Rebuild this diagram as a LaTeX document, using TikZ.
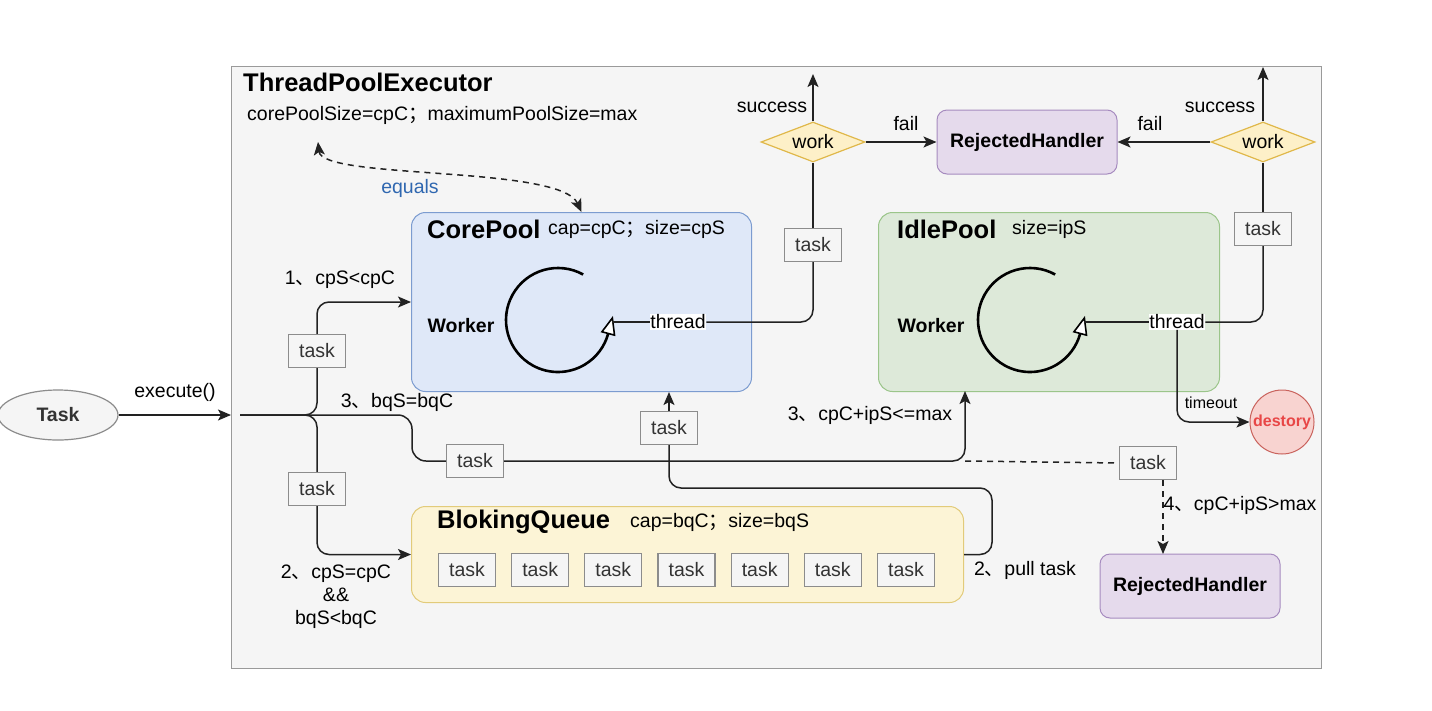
\documentclass[tikz,border=0pt]{standalone}
\usepackage{fontspec}
\setmainfont{Liberation Sans}
\newfontfamily\cjk{Noto Sans CJK SC}
\usetikzlibrary{arrows.meta,shapes.geometric,positioning,calc}
\definecolor{outfill}{HTML}{F5F5F5}
\definecolor{outline}{HTML}{9A9A9A}
\definecolor{tkline}{HTML}{8C8C8C}
\definecolor{tktext}{HTML}{333333}
\definecolor{corefill}{HTML}{DFE8F8}
\definecolor{coreline}{HTML}{7C9CD0}
\definecolor{idlefill}{HTML}{DDE9D9}
\definecolor{idleline}{HTML}{9BC58A}
\definecolor{queuefill}{HTML}{FCF4D6}
\definecolor{queueline}{HTML}{E2CB7A}
\definecolor{rejfill}{HTML}{E5DAEC}
\definecolor{rejline}{HTML}{A68BBF}
\definecolor{workfill}{HTML}{FDF0C8}
\definecolor{workline}{HTML}{E0B84A}
\definecolor{desfill}{HTML}{F8D3D0}
\definecolor{desline}{HTML}{C9625C}
\definecolor{destext}{HTML}{E84646}
\definecolor{eqblue}{HTML}{2F67B0}
\definecolor{connc}{HTML}{222222}
\newcommand{\dun}{{\cjk 、}}
\newcommand{\fen}{{\cjk ；}}

\begin{document}
\begin{tikzpicture}[x=1pt, y=-1pt,
	lbl/.style={font=\fontsize{19.5}{23}\selectfont, inner sep=1pt},
	head/.style={font=\fontsize{25.5}{28}\selectfont\bfseries, inner sep=0pt, anchor=west},
	tk/.style={draw=tkline, fill=outfill, text=tktext, line width=1.2pt, minimum width=57pt, minimum height=33pt, inner sep=0pt, font=\fontsize{19.5}{23}\selectfont},
	pool/.style={rounded corners=14pt, line width=1pt, minimum height=179pt, inner sep=0pt, anchor=north west},
	rej/.style={draw=rejline, fill=rejfill, line width=1pt, rounded corners=10pt, minimum width=180pt, minimum height=64pt, font=\fontsize{19.5}{23}\selectfont\bfseries},
	work/.style={diamond, draw=workline, fill=workfill, line width=1.2pt, aspect=2.6, minimum width=104pt, minimum height=40pt, inner sep=0pt, font=\fontsize{19.5}{23}\selectfont},
	conn/.style={line width=1.5pt, draw=connc},
	arr/.style={conn, -{Stealth[length=13pt, width=11pt, inset=3pt]}},
	loop/.style={line width=2.6pt},
	looptip/.style={line width=1.6pt, fill=white, line join=miter}
	]
				\fill[white] (0,0) rectangle (1432,710);
				\useasboundingbox (0,0) rectangle (1432,710);
				\node[draw=outline, fill=outfill, line width=1.2pt, minimum width=1090pt, minimum height=602pt, inner sep=0pt, anchor=north west] (tpe) at (231,66) {};
				\node[head] (title) at (243,82) {ThreadPoolExecutor};
				\node[lbl, anchor=west] (cfg) at (246,115) {corePoolSize=cpC\fen maximumPoolSize=max};

				\node[pool, draw=coreline, fill=corefill, minimum width=340pt] (core) at (411,212) {};
				\node[pool, draw=idleline, fill=idlefill, minimum width=341pt] (idle) at (878,212) {};
				\node[pool, draw=queueline, fill=queuefill, minimum width=552pt, minimum height=96pt] (queue) at (411,506) {};
				\node[head] (coreh) at (427,229) {CorePool};
				\node[lbl, anchor=west] (corep) at (547,229) {cap=cpC\fen size=cpS};
				\node[head] (idleh) at (897,229) {IdlePool};
				\node[lbl, anchor=west] (idlep) at (1011,229) {size=ipS};
				\node[head] (queueh) at (437,522) {BlokingQueue};
				\node[lbl, anchor=west] (queuep) at (629,522) {cap=bqC\fen size=bqS};
				\node[lbl, font=\fontsize{19.5}{23}\selectfont\bfseries] (wk1) at (461,326) {Worker};
				\node[lbl, font=\fontsize{19.5}{23}\selectfont\bfseries] (wk2) at (931,326) {Worker};

				\node[ellipse, draw=tkline, fill=outfill, text=tktext, line width=1.2pt, minimum width=120pt, minimum height=50pt, font=\fontsize{19.5}{23}\selectfont\bfseries] (task) at (58,415) {Task};
				\node[rej] (rejT) at (1027,142) {RejectedHandler};
				\node[rej] (rejB) at (1190,586) {RejectedHandler};
				\node[work] (work1) at (813,142) {work};
				\node[work] (work2) at (1263,142) {work};
				\node[circle, draw=desline, fill=desfill, line width=1pt, minimum size=64pt, inner sep=0pt, text=destext, font=\fontsize{16}{19}\selectfont\bfseries] (destroy) at (1282,422) {destory};

				\node[tk] (tk1) at (317,351) {task};
				\node[tk] (tk2) at (317,489) {task};
				\node[tk] (tk3) at (475,461) {task};
				\node[tk] (tk4) at (1148,463) {task};
				\node[tk] (tk5) at (669,428) {task};
				\node[tk] (tk6) at (813,245) {task};
				\node[tk] (tk7) at (1263,229) {task};
				\foreach \i in {0,...,6}
					\node[tk] (q\i) at ({467+73.17*\i},570) {task};

				\node[lbl, fill=white, inner sep=0.5pt] (thr1) at (678,322) {thread};
				\node[lbl, fill=white, inner sep=0.5pt] (thr2) at (1177,322) {thread};

				\coordinate (split) at (240,415);
				\coordinate (bend) at (412,415);
				\coordinate (idlein) at (965,391);
				\coordinate (pullc) at (992,488);
				\coordinate (c1) at (558,320);
				\coordinate (c2) at (1030,320);
				\coordinate (out1) at (813,74);
				\coordinate (out2) at (1263,67);
				\coordinate (eqa) at (318,142);
				\coordinate (rjin) at (1163,554);

				\draw[arr] (task.east) -- (tpe.west |- task.east);
				\draw[conn, rounded corners=12pt] (split) -| (tk1.south);
				\draw[arr, rounded corners=12pt] (tk1.north) |- (core.west);
				\draw[conn, rounded corners=12pt] (split) -| (tk2.north);
				\draw[arr, rounded corners=12pt] (tk2.south) |- (queue.west);
				\draw[conn, rounded corners=14pt] (split) -- (bend) |- (tk3.west);
				\draw[arr, rounded corners=12pt] (tk3.east) -| (idlein);
				\draw[conn, dashed, dash pattern=on 6pt off 5pt] (idlein |- tk3.east) -- (tk4.west);
				\draw[conn, dashed, dash pattern=on 6pt off 5pt, -{Stealth[length=13pt, width=11pt, inset=3pt]}] (rjin |- tk4.south) -- (rjin);
				\draw[conn, rounded corners=12pt] (queue.east) -| (pullc) -| (tk5.south);
				\draw[arr] (tk5.north) -- (tk5.north |- core.south);

				\foreach \c/\t in {c1/tip1, c2/tip2} {
					\draw[loop] (\c) ++(61:52pt) arc[start angle=61, end angle=345, radius=52pt];
					\coordinate (\t) at ($(\c)+(345:52pt)+(75:16pt)$);
					\draw[looptip] ($(\c)+(345:52pt)+(165:6.5pt)$) -- (\t) -- ($(\c)+(345:52pt)+(-15:6.5pt)$) -- cycle;
				}
				\draw[conn] (thr1.west) -- (tip1 |- thr1.west);
				\draw[conn, rounded corners=12pt] (thr1.east) -| (tk6.south);
				\draw[conn] (tk6.north) -- (work1.south);
				\draw[arr] (work1.north) -- (out1);
				\draw[arr] (work1.east) -- (rejT.west);
				\draw[conn] (thr2.west) -- (tip2 |- thr2.west);
				\draw[conn, rounded corners=12pt] (thr2.east) -| (tk7.south);
				\draw[conn] (tk7.north) -- (work2.south);
				\draw[arr] (work2.north) -- (out2);
				\draw[arr] (work2.west) -- (rejT.east);
				\draw[arr, rounded corners=12pt] (thr2.south) |- (destroy.west);
				\draw[conn, dash pattern=on 6pt off 5pt, {Stealth[length=13pt, width=11pt, inset=3pt]}-{Stealth[length=13pt, width=11pt, inset=3pt]}] (eqa) .. controls (322,180) and (560,165) .. (core.north);

				\node[lbl, text=eqblue] at (410,188) {equals};
				\node[lbl] at (175,392) {execute()};
				\node[lbl] at (340,280) {1\dun cpS<cpC};
				\node[lbl] at (397,402) {3\dun bqS=bqC};
				\node[lbl, align=center] at (336,597) {2\dun cpS=cpC\\\&\&\\bqS<bqC};
				\node[lbl] at (870,415) {3\dun cpC+ipS<=max};
				\node[lbl] at (1025,570) {2\dun pull task};
				\node[lbl] at (1240,505) {4\dun cpC+ipS>max};
				\node[lbl, font=\fontsize{16}{19}\selectfont] at (1211,403) {timeout};
				\node[lbl] at (772,107) {success};
				\node[lbl] at (1220,107) {success};
				\node[lbl] at (906,124) {fail};
				\node[lbl] at (1150,124) {fail};
			\end{tikzpicture}
\end{document}
